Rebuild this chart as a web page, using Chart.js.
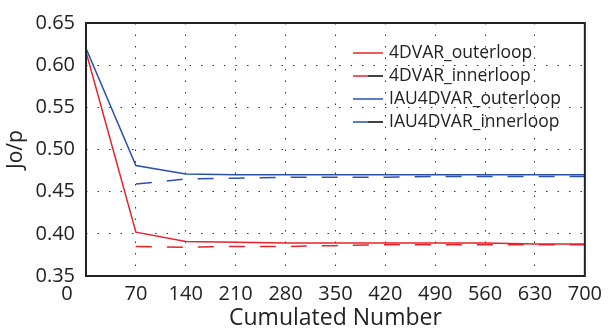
<!DOCTYPE html>
<html>
<head>
<meta charset="utf-8">
<script src="https://cdn.jsdelivr.net/npm/chart.js@4/dist/chart.umd.min.js"></script>
<style>
  html, body { margin: 0; padding: 0; background: #fff; }
  #wrap { width: 608px; height: 330px; }
</style>
</head>
<body>
<div id="wrap"><canvas id="jop" width="608" height="330"></canvas></div>
<script>
  // x positions (cumulated number of iterations)
  const outerX = [0, 70, 140, 210, 280, 350, 420, 490, 560, 630, 700];
  const innerX = [70, 140, 210, 280, 350, 420, 490, 560, 630, 700];

  // Jo/p values
  const fourdvarOuter = [0.616, 0.402, 0.391, 0.390, 0.389, 0.389, 0.389, 0.389, 0.389, 0.388, 0.388];
  const fourdvarInner = [0.385, 0.384, 0.385, 0.385, 0.386, 0.387, 0.387, 0.387, 0.387, 0.387];
  const iauOuter = [0.620, 0.481, 0.471, 0.470, 0.470, 0.470, 0.470, 0.470, 0.470, 0.470, 0.470];
  const iauInner = [0.459, 0.465, 0.466, 0.467, 0.467, 0.467, 0.468, 0.468, 0.468, 0.468];

  const seriesNames = ["4DVAR_outerloop", "4DVAR_innerloop", "IAU4DVAR_outerloop", "IAU4DVAR_innerloop"];
  const xTicks = [0, 70, 140, 210, 280, 350, 420, 490, 560, 630, 700];

  const RED = "#e5232b";
  const BLUE = "#2c51a8";
  const FONT = "'Open Sans', sans-serif";

  function pairs(xs, ys) {
    return xs.map((x, i) => ({ x: x, y: ys[i] }));
  }

  // box around the plot, the shifted "0" label, and the legend
  const extras = {
    id: "extras",
    afterDraw(chart) {
      const ctx = chart.ctx;
      const a = chart.chartArea;
      const xs = chart.scales.x;
      ctx.save();
      ctx.strokeStyle = "#222";
      ctx.lineWidth = 2;
      ctx.strokeRect(a.left, a.top, a.right - a.left, a.bottom - a.top);

      ctx.fillStyle = "#222";
      ctx.font = "20px " + FONT;
      ctx.textAlign = "center";
      ctx.textBaseline = "middle";
      ctx.fillText("0", xs.getPixelForValue(0) - 19, 294);

      // legend
      ctx.font = "17.5px " + FONT;
      ctx.textAlign = "left";
      ctx.lineWidth = 1.5;
      chart.data.datasets.forEach((ds, i) => {
        const y = 53 + i * 23;
        const inner = i % 2 === 1;
        ctx.strokeStyle = ds.borderColor;
        ctx.beginPath();
        ctx.moveTo(353, y);
        ctx.lineTo(inner ? 368 : 383, y);
        ctx.stroke();
        if (inner) {
          ctx.strokeStyle = "#000";
          ctx.beginPath();
          ctx.moveTo(368, y);
          ctx.lineTo(383, y);
          ctx.stroke();
        }
        ctx.fillStyle = "#222";
        ctx.fillText(ds.label, 389, y);
      });
      ctx.restore();
    }
  };

  new Chart(document.getElementById("jop"), {
    type: "line",
    data: {
      datasets: [
        { label: seriesNames[0], data: pairs(outerX, fourdvarOuter), borderColor: RED, borderWidth: 1.5 },
        { label: seriesNames[1], data: pairs(innerX, fourdvarInner), borderColor: RED, borderWidth: 1.5, borderDash: [16, 15] },
        { label: seriesNames[2], data: pairs(outerX, iauOuter), borderColor: BLUE, borderWidth: 1.5 },
        { label: seriesNames[3], data: pairs(innerX, iauInner), borderColor: BLUE, borderWidth: 1.5, borderDash: [16, 15] }
      ]
    },
    options: {
      responsive: false,
      animation: false,
      devicePixelRatio: 1,
      layout: { padding: { left: 0, right: 16, top: 23, bottom: 0 } },
      elements: { point: { radius: 0 }, line: { tension: 0 } },
      plugins: { legend: { display: false }, tooltip: { enabled: false } },
      scales: {
        x: {
          type: "linear",
          min: 0,
          max: 700,
          afterBuildTicks: (s) => { s.ticks = xTicks.map(v => ({ value: v })); },
          afterFit: (s) => { s.height = 54; },
          grid: { color: "#333", lineWidth: 1, drawTicks: false },
          border: { display: false, dash: [1.5, 10] },
          ticks: {
            padding: 6,
            color: "#222",
            font: { family: FONT, size: 20 },
            maxRotation: 0,
            autoSkip: false,
            callback: (v) => (v === 0 ? "" : String(v))
          },
          title: {
            display: true,
            text: "Cumulated Number",
            color: "#222",
            font: { family: FONT, size: 23, lineHeight: 1 },
            padding: 0
          }
        },
        y: {
          min: 0.35,
          max: 0.65,
          afterFit: (s) => { s.width = 86; },
          grid: { color: "#333", lineWidth: 1, drawTicks: false },
          border: { display: false, dash: [1.5, 10] },
          ticks: {
            stepSize: 0.05,
            padding: 11,
            color: "#222",
            font: { family: FONT, size: 20 },
            callback: (v) => v.toFixed(2)
          },
          title: {
            display: true,
            text: "Jo/p",
            color: "#222",
            font: { family: FONT, size: 21, lineHeight: 1.5 },
            padding: 0
          }
        }
      }
    },
    plugins: [extras]
  });
</script>
</body>
</html>
